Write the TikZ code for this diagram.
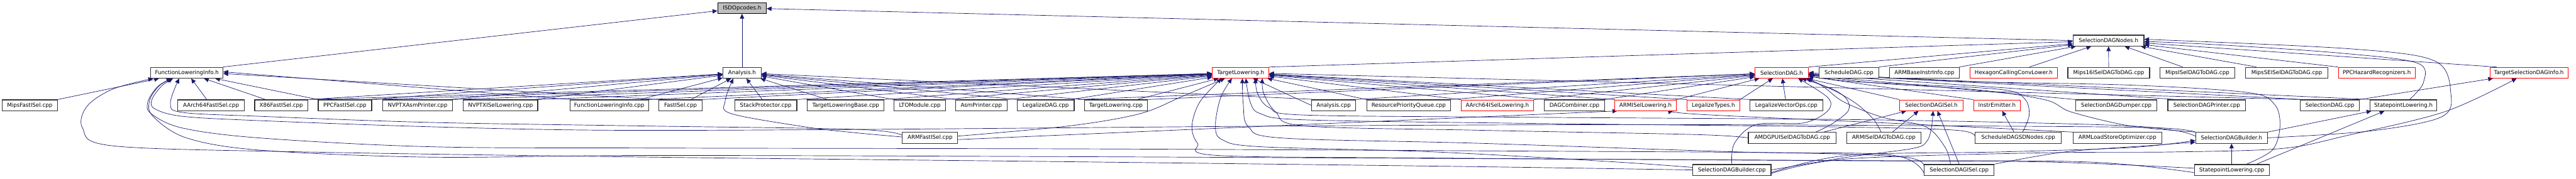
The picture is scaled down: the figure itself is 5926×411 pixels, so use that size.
\documentclass[tikz,border=0pt]{standalone}
\usepackage{fontspec}
\newfontfamily\dvs{DejaVu Sans}
\usetikzlibrary{arrows.meta}
\definecolor{edgecol}{HTML}{191970}
\definecolor{nodeborder}{HTML}{333333}
\definecolor{redborder}{HTML}{FF0000}
\definecolor{greyfill}{HTML}{BFBFBF}
\pgfdeclarelayer{background}
\pgfsetlayers{background,main}
\tikzset{
  fnode/.style={draw=nodeborder, line width=0.8pt, fill=white, rectangle, minimum height=12.5pt, inner sep=0pt, font=\dvs\fontsize{6.3pt}{7.5pt}\selectfont, text=black},
  rnode/.style={fnode, draw=redborder, line width=0.6pt},
  gnode/.style={fnode, fill=greyfill, draw=black},
  dep/.style={draw=edgecol, line width=0.5pt, -{Triangle[length=5.5pt,width=5pt]}},
  sm/.style={smooth, tension=0.55}
}
\newcommand{\dnode}[6]{\node[#6, minimum width={(#3-#2)*0.5pt}] (#1) at ({(#2+#3)/2},#4) {#5};}
\begin{document}
\begin{tikzpicture}[x=0.5pt,y=-0.5pt]
\useasboundingbox (0,0) rectangle (5926,411);
% row 0
\dnode{isd}{1651}{1763}{18.5}{ISDOpcodes.h}{gnode}
% row 1
\dnode{sdn}{4769}{4932}{93.5}{SelectionDAGNodes.h}{fnode}
% row 2
\dnode{flih}{347}{513}{167.5}{FunctionLoweringInfo.h}{fnode}
\dnode{anah}{1663}{1751}{167.5}{Analysis.h}{fnode}
\dnode{tlh}{2789}{2919}{167.5}{TargetLowering.h}{rnode}
\dnode{sdagh}{4037}{4160}{167.5}{SelectionDAG.h}{rnode}
\dnode{schedcpp}{4185}{4322}{167.5}{ScheduleDAG.cpp}{fnode}
\dnode{armbase}{4347}{4507}{167.5}{ARMBaseInstrInfo.cpp}{fnode}
\dnode{hexh}{4532}{4733}{167.5}{HexagonCallingConvLower.h}{rnode}
\dnode{mips16}{4757}{4945}{167.5}{Mips16ISelDAGToDAG.cpp}{fnode}
\dnode{mipsisel}{4969}{5141}{167.5}{MipsISelDAGToDAG.cpp}{fnode}
\dnode{mipsse}{5166}{5355}{167.5}{MipsSEISelDAGToDAG.cpp}{fnode}
\dnode{ppchaz}{5379}{5556}{167.5}{PPCHazardRecognizers.h}{rnode}
\dnode{tsdi}{5728}{5907}{167.5}{TargetSelectionDAGInfo.h}{rnode}
% row 3
\dnode{mipsfast}{5}{132}{242.5}{MipsFastISel.cpp}{fnode}
\dnode{a64fast}{409}{562}{242.5}{AArch64FastISel.cpp}{fnode}
\dnode{x86fast}{586}{708}{242.5}{X86FastISel.cpp}{fnode}
\dnode{ppcfast}{732}{855}{242.5}{PPCFastISel.cpp}{fnode}
\dnode{nvasm}{880}{1041}{242.5}{NVPTXAsmPrinter.cpp}{fnode}
\dnode{nvisel}{1066}{1237}{242.5}{NVPTXISelLowering.cpp}{fnode}
\dnode{flicpp}{1311}{1492}{242.5}{FunctionLoweringInfo.cpp}{fnode}
\dnode{fastisel}{1516}{1615}{242.5}{FastISel.cpp}{fnode}
\dnode{stackp}{1690}{1833}{242.5}{StackProtector.cpp}{fnode}
\dnode{tlbase}{1857}{2034}{242.5}{TargetLoweringBase.cpp}{fnode}
\dnode{lto}{2057}{2175}{242.5}{LTOModule.cpp}{fnode}
\dnode{asmp}{2198}{2317}{242.5}{AsmPrinter.cpp}{fnode}
\dnode{legdag}{2340}{2471}{242.5}{LegalizeDAG.cpp}{fnode}
\dnode{tlcpp}{2495}{2639}{242.5}{TargetLowering.cpp}{fnode}
\dnode{anacpp}{3017}{3119}{242.5}{Analysis.cpp}{fnode}
\dnode{rpq}{3144}{3337}{242.5}{ResourcePriorityQueue.cpp}{fnode}
\dnode{a64islh}{3361}{3528}{242.5}{AArch64ISelLowering.h}{rnode}
\dnode{dagcomb}{3553}{3691}{242.5}{DAGCombiner.cpp}{fnode}
\dnode{armislh}{3715}{3856}{242.5}{ARMISelLowering.h}{rnode}
\dnode{legtypes}{3881}{4002}{242.5}{LegalizeTypes.h}{rnode}
\dnode{legvec}{4026}{4193}{242.5}{LegalizeVectorOps.cpp}{fnode}
\dnode{sdiselh}{4370}{4516}{242.5}{SelectionDAGISel.h}{rnode}
\dnode{instremh}{4540}{4648}{242.5}{InstrEmitter.h}{rnode}
\dnode{dumper}{4775}{4962}{242.5}{SelectionDAGDumper.cpp}{fnode}
\dnode{printer}{4987}{5166}{242.5}{SelectionDAGPrinter.cpp}{fnode}
\dnode{sdagcpp}{5292}{5428}{242.5}{SelectionDAG.cpp}{fnode}
\dnode{splh}{5452}{5606}{242.5}{StatepointLowering.h}{fnode}
% row 4
\dnode{armfast}{2076}{2203}{317.5}{ARMFastISel.cpp}{fnode}
\dnode{amdgpu}{4022}{4224}{317.5}{AMDGPUISelDAGToDAG.cpp}{fnode}
\dnode{armisel}{4248}{4419}{317.5}{ARMISelDAGToDAG.cpp}{fnode}
\dnode{sdsdn}{4544}{4742}{317.5}{ScheduleDAGSDNodes.cpp}{fnode}
\dnode{armlso}{4769}{4973}{317.5}{ARMLoadStoreOptimizer.cpp}{fnode}
\dnode{sdbh}{5051}{5216}{317.5}{SelectionDAGBuilder.h}{fnode}
% row 5
\dnode{sdbcpp}{3894}{4074}{391.5}{SelectionDAGBuilder.cpp}{fnode}
\dnode{sdiselcpp}{4427}{4587}{391.5}{SelectionDAGISel.cpp}{fnode}
\dnode{splcpp}{5048}{5220}{391.5}{StatepointLowering.cpp}{fnode}

\begin{pgfonlayer}{background}
\fill[white] (0,0) rectangle (5926,411);
% ---- ISDOpcodes.h
\draw[dep] (flih.north east) -- (isd);
\draw[dep] (anah) -- (isd);
\draw[dep] (sdn.west) -- (isd);
% ---- SelectionDAGNodes.h
\draw[dep] (tlh.north east) -- (sdn);
\draw[dep] (sdagh.north east) -- (sdn);
\draw[dep] (schedcpp.north east) -- (sdn);
\draw[dep] (armbase.north east) -- (sdn);
\draw[dep] ([xshift=18pt]hexh.north) -- (sdn);
\draw[dep] (mips16) -- (sdn);
\draw[dep] ([xshift=-17pt]mipsisel.north) -- (sdn);
\draw[dep] ([xshift=-35pt]mipsse.north) -- (sdn);
\draw[dep] (ppchaz.north west) -- (sdn);
\draw[dep] ([xshift=8pt]tsdi.north west) -- (sdn);
\draw[dep] plot[sm] coordinates {([xshift=7pt]splh.north) (5575,190) (5560,145) (5380,122) (5100,103) ([yshift=-1pt]sdn.east)};
\draw[dep] plot[sm] coordinates {(sdbh.east) (5450,302) (5615,270) (5638,215) (5600,140) (5400,112) ([yshift=1.5pt]sdn.east)};
% ---- FunctionLoweringInfo.h
\draw[dep] (mipsfast.north east) -- (flih);
\draw[dep] (a64fast) -- (flih);
\draw[dep] ([xshift=-18pt]x86fast.north) -- (flih);
\draw[dep] (ppcfast.north west) -- (flih);
\draw[dep] (flicpp.north west) -- ([yshift=1pt]flih.east);
\draw[dep] (fastisel.north west) -- ([yshift=-1pt]flih.east);
\draw[dep] plot[sm] coordinates {([yshift=3pt]armfast.west) (1970,298) (1470,290) (990,282) (600,268) (420,259) (392,238) ([xshift=-9pt]flih.south)};
\draw[dep] plot[sm] coordinates {(sdbh.north west) (4950,294) (4500,290) (3800,287) (3000,290) (2000,298) (1400,300) (990,292) (600,278) (420,268) (355,250) (350,228) (372,198) ([xshift=-16pt]flih.south)};
\draw[dep] plot[sm] coordinates {([yshift=4pt]sdiselcpp.west) (4380,362) (4100,352) (3500,348) (2500,343) (1500,341) (990,338) (600,318) (420,295) (348,262) (340,235) (362,200) ([xshift=-18pt]flih.south)};
\draw[dep] plot[sm] coordinates {([yshift=-3pt]splcpp.west) (4800,373) (4300,370) (3500,366) (2500,361) (1500,358) (990,362) (600,346) (430,318) (352,268) (344,232) (366,198) ([xshift=-17pt]flih.south)};
\draw[dep] plot[sm] coordinates {(sdbcpp.west) (3400,384) (2500,373) (1500,362) (700,350) (260,336) (190,295) (200,245) (260,205) ([xshift=3pt]flih.south west)};
% ---- Analysis.h
\draw[dep] (x86fast.north east) -- (anah);
\draw[dep] ([xshift=-4pt]ppcfast.north east) -- (anah);
\draw[dep] ([xshift=-4pt]nvasm.north east) -- (anah);
\draw[dep] ([xshift=-4pt]nvisel.north east) -- (anah);
\draw[dep] ([xshift=-10pt]flicpp.north east) -- (anah);
\draw[dep] ([xshift=12pt]fastisel.north) -- (anah);
\draw[dep] ([xshift=-4pt]stackp.north) -- (anah);
\draw[dep] ([xshift=-21pt]tlbase.north) -- (anah);
\draw[dep] (lto.north west) -- (anah);
\draw[dep] (asmp.north west) -- (anah);
\draw[dep] (legdag.north west) -- (anah);
\draw[dep] (tlcpp.north west) -- (anah);
\draw[dep] ([xshift=6pt]anacpp.north west) -- (anah);
\draw[dep] plot[sm] coordinates {([yshift=1pt]armfast.west) (1970,306) (1857,293) (1683,262) (1668,233) ([xshift=-10pt]anah.south)};
% ---- TargetLowering.h
\draw[dep] ([xshift=2pt]x86fast.north east) -- (tlh);
\draw[dep] (ppcfast.north east) -- (tlh);
\draw[dep] (nvasm.north east) -- (tlh);
\draw[dep] (nvisel.north east) -- (tlh);
\draw[dep] (flicpp.north east) -- (tlh);
\draw[dep] (fastisel.north east) -- (tlh);
\draw[dep] (stackp.north east) -- (tlh);
\draw[dep] (tlbase.north east) -- (tlh);
\draw[dep] (lto.north east) -- (tlh);
\draw[dep] (asmp.north east) -- (tlh);
\draw[dep] ([xshift=-4pt]legdag.north east) -- (tlh);
\draw[dep] ([xshift=-12pt]tlcpp.north east) -- (tlh);
\draw[dep] (anacpp.west) -- (tlh);
\draw[dep] (rpq.north west) -- (tlh);
\draw[dep] (a64islh.north west) -- (tlh);
\draw[dep] (dagcomb.north west) -- (tlh);
\draw[dep] (armislh.north west) -- (tlh);
\draw[dep] (legtypes.north west) -- (tlh);
\draw[dep] (legvec.north west) -- (tlh);
\draw[dep] (sdagcpp.north west) -- (tlh);
\draw[dep] plot[sm] coordinates {([yshift=2pt]armfast.east) (2460,290) (2622,262) (2720,222) ([xshift=-18pt]tlh.south)};
\draw[dep] plot[sm] coordinates {([yshift=3pt]sdbcpp.west) (3700,372) (3300,350) (2900,338) (2812,322) (2796,290) (2808,225) ([xshift=-10pt]tlh.south)};
\draw[dep] plot[sm] coordinates {([yshift=2pt]splcpp.west) (4700,373) (4200,370) (3300,364) (2800,358) (2755,330) (2742,290) (2760,235) ([xshift=-22pt]tlh.south)};
\draw[dep] plot[sm] coordinates {([yshift=-4pt]sdiselcpp.west) (4350,357) (4000,350) (3400,330) (2950,318) (2872,292) (2860,240) ([xshift=2pt]tlh.south)};
\draw[dep] plot[sm] coordinates {(sdsdn.west) (4500,300) (4200,292) (3500,284) (3000,276) (2900,262) (2876,235) ([xshift=6pt]tlh.south)};
\draw[dep] plot[sm] coordinates {([yshift=2pt]sdbh.west) (5000,300) (4850,288) (4300,276) (3500,270) (3000,265) (2920,248) (2893,215) ([xshift=17pt]tlh.south)};
\draw[dep] plot[sm] coordinates {(amdgpu.west) (3900,310) (3400,300) (3000,290) (2935,258) (2907,215) ([xshift=25pt]tlh.south)};
% ---- SelectionDAG.h
\draw[dep] ([xshift=4pt]legdag.north east) -- (sdagh);
\draw[dep] (tlcpp.north east) -- (sdagh);
\draw[dep] (anacpp.north east) -- (sdagh);
\draw[dep] (rpq.north east) -- (sdagh);
\draw[dep] (a64islh.north east) -- (sdagh);
\draw[dep] (dagcomb.north east) -- (sdagh);
\draw[dep] (armislh.north east) -- (sdagh);
\draw[dep] (legtypes.north east) -- (sdagh);
\draw[dep] (legvec) -- (sdagh);
\draw[dep] (sdiselh.north west) -- (sdagh);
\draw[dep] (instremh.north west) -- (sdagh);
\draw[dep] (dumper.north west) -- (sdagh);
\draw[dep] ([xshift=10pt]printer.north west) -- (sdagh);
\draw[dep] ([xshift=4pt]sdagcpp.north west) -- (sdagh);
\draw[dep] (splh.north west) -- (sdagh);
\draw[dep] plot[sm] coordinates {([xshift=27pt]amdgpu.north) (4215,285) (4252,255) (4248,228) (4215,205) ([xshift=-8pt]sdagh.south east)};
\draw[dep] plot[sm] coordinates {([xshift=-3pt]armisel.north) (4310,275) (4272,240) (4222,210) ([xshift=-3pt]sdagh.south east)};
\draw[dep] plot[sm] coordinates {(sdbcpp.north) (3990,330) (4040,287) (4150,283) (4205,255) (4205,225) ([xshift=-12pt]sdagh.south east)};
\draw[dep] plot[sm] coordinates {([xshift=5pt]sdsdn.north) (4668,265) (4658,228) (4610,207) (4410,195) (4250,187) ([yshift=-3pt]sdagh.east)};
\draw[dep] plot[sm] coordinates {(sdbh.north west) (4900,290) (4765,258) (4705,230) (4550,207) (4300,190) ([yshift=-1.5pt]sdagh.east)};
\draw[dep] plot[sm] coordinates {([xshift=17pt]splcpp.north) (5228,345) (5245,290) (5232,240) (5170,213) (4900,196) (4500,187) (sdagh.east)};
\draw[dep] plot[sm] coordinates {([xshift=-10pt]sdiselcpp.north) (4475,340) (4430,292) (4330,270) (4242,235) (4195,200) ([xshift=-1pt]sdagh.south east)};
% ---- SelectionDAGISel.h
\draw[dep] ([xshift=-15pt]amdgpu.north east) -- ([xshift=8pt]sdiselh.south west);
\draw[dep] ([xshift=10pt]armisel.north) -- ([xshift=22pt]sdiselh.south west);
\draw[dep] plot[sm] coordinates {(sdbcpp.east) (4250,362) (4400,342) (4432,326) (4443,295) ([xshift=2pt]sdiselh.south)};
\draw[dep] (sdiselcpp.north) -- ([xshift=7pt]sdiselh.south);
% ---- InstrEmitter.h
\draw[dep] ([xshift=-5pt]sdsdn.north) -- ([xshift=6pt]instremh.south);
% ---- ARMISelLowering.h
\draw[dep] ([yshift=-2pt]armfast.east) -- ([xshift=3pt]armislh.south west);
\draw[dep] plot[sm] coordinates {(armlso.north west) (4420,287) (3920,264) ([xshift=-4pt]armislh.south east)};
% ---- TargetSelectionDAGInfo.h
\draw[dep] (sdagcpp.north east) -- (tsdi);
\draw[dep] plot[sm] coordinates {([yshift=-4pt]sdbcpp.east) (4250,366) (4700,352) (5000,350) (5250,342) (5400,312) (5625,257) ([xshift=31pt]tsdi.south west)};
% ---- StatepointLowering.h
\draw[dep] (sdbh.north east) -- ([xshift=2pt]splh.south west);
\draw[dep] ([xshift=-15pt]splcpp.north east) -- ([xshift=17pt]splh.south west);
% ---- SelectionDAGBuilder.h
\draw[dep] plot[sm] coordinates {([yshift=-3pt]sdbcpp.east) (4250,358) (4600,350) (4900,340) ([yshift=-3pt]sdbh.west)};
\draw[dep] plot[sm] coordinates {(sdiselcpp.north east) (4750,350) (4950,335) ([yshift=-5pt]sdbh.west)};
\draw[dep] (splcpp) -- (sdbh);
\end{pgfonlayer}
\end{tikzpicture}
\end{document}
